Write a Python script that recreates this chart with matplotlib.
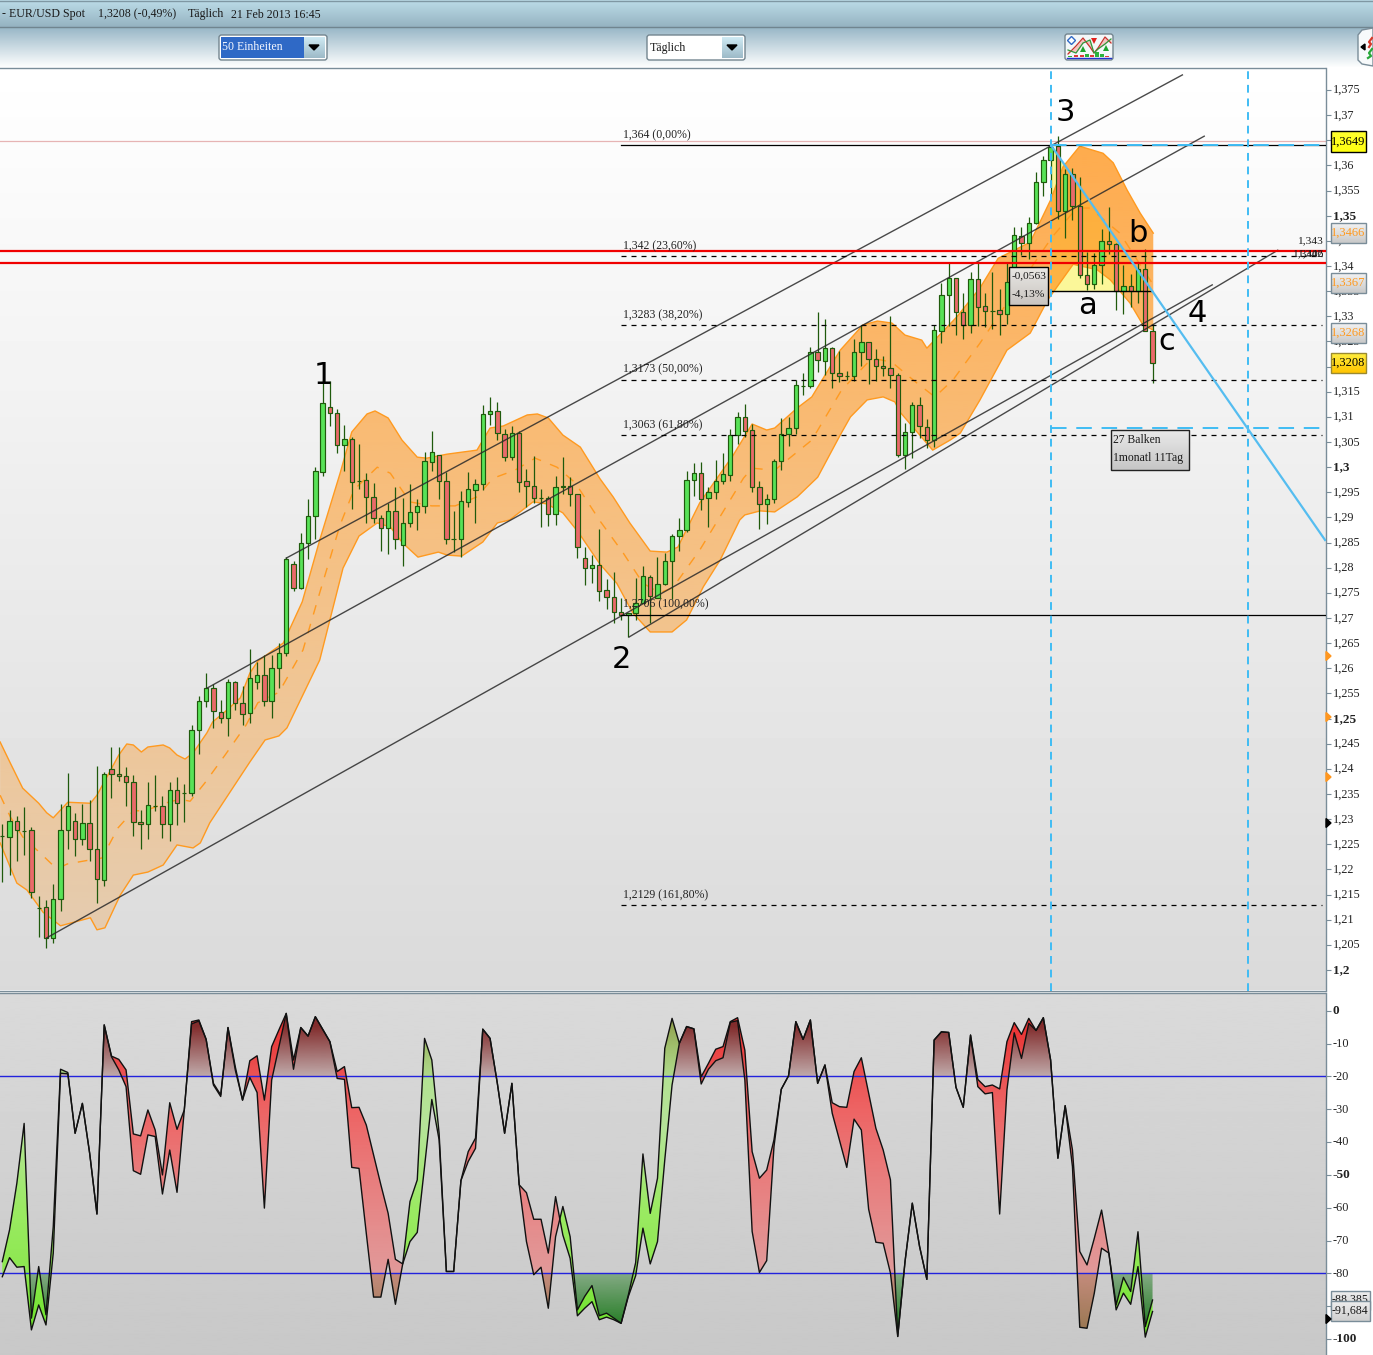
import numpy as np
import matplotlib
matplotlib.use("Agg")
import matplotlib.pyplot as plt
from matplotlib.colors import to_rgb
from matplotlib.patches import FancyBboxPatch, Rectangle
from matplotlib.path import Path
from matplotlib.transforms import ScaledTranslation

W, H = 1373, 1355
SERIF = "Liberation Serif"

# EUR/USD daily candles
opens = [1.2263, 1.2261, 1.2292, 1.2273, 1.2274, 1.2120, 1.2121, 1.2059, 1.2137, 1.2274,
         1.2293, 1.2256, 1.2288, 1.2236, 1.2175, 1.2396, 1.2386, 1.2382, 1.2370, 1.2290,
         1.2286, 1.2323, 1.2322, 1.2286, 1.2354, 1.2349, 1.2348, 1.2473, 1.2531, 1.2557,
         1.2509, 1.2497, 1.2569, 1.2527, 1.2507, 1.2569, 1.2583, 1.2531, 1.2597, 1.2627,
         1.2805, 1.2757, 1.2847, 1.2899, 1.2988, 1.3116, 1.3104, 1.3042, 1.3054, 1.2970,
         1.2972, 1.2937, 1.2895, 1.2875, 1.2909, 1.2843, 1.2885, 1.2907, 1.2919, 1.3008,
         1.3022, 1.2970, 1.2855, 1.2855, 1.2927, 1.2951, 1.2964, 1.3102, 1.3108, 1.3064,
         1.3018, 1.3066, 1.2970, 1.2960, 1.2935, 1.2935, 1.2903, 1.2957, 1.2960, 1.2943,
         1.2817, 1.2797, 1.2803, 1.2752, 1.2738, 1.2708, 1.2702, 1.2706, 1.2726, 1.2778,
         1.2736, 1.2764, 1.2810, 1.2861, 1.2871, 1.2971, 1.2985, 1.2935, 1.2947, 1.2969,
         1.2981, 1.3061, 1.3096, 1.3071, 1.2957, 1.2923, 1.2933, 1.3009, 1.3063, 1.3075,
         1.3159, 1.3158, 1.3226, 1.3208, 1.3234, 1.3184, 1.3178, 1.3178, 1.3226, 1.3246,
         1.3212, 1.3198, 1.3194, 1.3180, 1.3021, 1.3067, 1.3120, 1.3078, 1.3051, 1.3269,
         1.3339, 1.3373, 1.3305, 1.3281, 1.3371, 1.3317, 1.3308, 1.3309, 1.3303, 1.3365,
         1.3458, 1.3444, 1.3484, 1.3564, 1.3608, 1.3636, 1.3508, 1.3580, 1.3518, 1.3379,
         1.3361, 1.3399, 1.3448, 1.3442, 1.3347, 1.3357, 1.3347, 1.3391, 1.3269]
closes = [1.2263, 1.2292, 1.2274, 1.2273, 1.2152, 1.2120, 1.2059, 1.2137, 1.2274, 1.2322,
          1.2256, 1.2288, 1.2236, 1.2177, 1.2386, 1.2386, 1.2382, 1.2370, 1.2290, 1.2286,
          1.2324, 1.2323, 1.2286, 1.2354, 1.2328, 1.2349, 1.2473, 1.2531, 1.2557, 1.2511,
          1.2497, 1.2569, 1.2527, 1.2505, 1.2577, 1.2583, 1.2531, 1.2597, 1.2628, 1.2815,
          1.2757, 1.2847, 1.2899, 1.2990, 1.3124, 1.3104, 1.3042, 1.3054, 1.2968, 1.2970,
          1.2937, 1.2895, 1.2875, 1.2909, 1.2855, 1.2885, 1.2907, 1.2919, 1.3010, 1.3028,
          1.2970, 1.2855, 1.2855, 1.2929, 1.2953, 1.2964, 1.3102, 1.3108, 1.3066, 1.3018,
          1.3066, 1.2968, 1.2960, 1.2935, 1.2935, 1.2903, 1.2957, 1.2960, 1.2943, 1.2839,
          1.2797, 1.2803, 1.2751, 1.2738, 1.2708, 1.2702, 1.2706, 1.2726, 1.2780, 1.2740,
          1.2764, 1.2810, 1.2861, 1.2871, 1.2971, 1.2985, 1.2933, 1.2947, 1.2969, 1.2983,
          1.3061, 1.3096, 1.3069, 1.2957, 1.2923, 1.2933, 1.3009, 1.3063, 1.3075, 1.3160,
          1.3159, 1.3226, 1.3210, 1.3234, 1.3184, 1.3178, 1.3178, 1.3226, 1.3246, 1.3212,
          1.3198, 1.3194, 1.3180, 1.3021, 1.3067, 1.3120, 1.3080, 1.3051, 1.3270, 1.3339,
          1.3373, 1.3305, 1.3281, 1.3371, 1.3315, 1.3307, 1.3308, 1.3303, 1.3365, 1.3460,
          1.3444, 1.3484, 1.3564, 1.3608, 1.3634, 1.3508, 1.3580, 1.3518, 1.3379, 1.3361,
          1.3399, 1.3448, 1.3442, 1.3347, 1.3357, 1.3347, 1.3391, 1.3269, 1.3204]
highs = [1.2287, 1.2315, 1.2303, 1.2320, 1.2280, 1.2143, 1.2135, 1.2167, 1.2327, 1.2388,
         1.2309, 1.2327, 1.2334, 1.2402, 1.2390, 1.2439, 1.2439, 1.2400, 1.2384, 1.2315,
         1.2370, 1.2384, 1.2342, 1.2370, 1.2380, 1.2366, 1.2484, 1.2542, 1.2587, 1.2565,
         1.2534, 1.2575, 1.2571, 1.2561, 1.2635, 1.2609, 1.2624, 1.2624, 1.2648, 1.2818,
         1.2810, 1.2867, 1.2933, 1.2998, 1.3170, 1.3168, 1.3112, 1.3082, 1.3057, 1.3044,
         1.2986, 1.2966, 1.2901, 1.2925, 1.2958, 1.2935, 1.2964, 1.2933, 1.3028, 1.3069,
         1.3022, 1.2988, 1.2909, 1.2949, 1.2988, 1.2974, 1.3120, 1.3136, 1.3126, 1.3074,
         1.3080, 1.3069, 1.2994, 1.3020, 1.2953, 1.2939, 1.2980, 1.3018, 1.2978, 1.2943,
         1.2839, 1.2823, 1.2873, 1.2774, 1.2788, 1.2736, 1.2706, 1.2776, 1.2800, 1.2782,
         1.2818, 1.2826, 1.2865, 1.2895, 1.2989, 1.3005, 1.3007, 1.2957, 1.3011, 1.3025,
         1.3073, 1.3106, 1.3122, 1.3084, 1.2969, 1.2943, 1.3013, 1.3094, 1.3096, 1.3170,
         1.3184, 1.3236, 1.3305, 1.3292, 1.3236, 1.3228, 1.3188, 1.3252, 1.3280, 1.3246,
         1.3232, 1.3218, 1.3298, 1.3184, 1.3086, 1.3126, 1.3136, 1.3092, 1.3280, 1.3363,
         1.3403, 1.3373, 1.3343, 1.3385, 1.3403, 1.3343, 1.3385, 1.3352, 1.3403, 1.3476,
         1.3476, 1.3496, 1.3584, 1.3616, 1.3642, 1.3657, 1.3590, 1.3592, 1.3574, 1.3425,
         1.3423, 1.3472, 1.3516, 1.3444, 1.3399, 1.3381, 1.3403, 1.3431, 1.3283]
lows = [1.2172, 1.2185, 1.2214, 1.2225, 1.2140, 1.2061, 1.2039, 1.2049, 1.2114, 1.2237,
        1.2222, 1.2245, 1.2214, 1.2130, 1.2164, 1.2339, 1.2372, 1.2323, 1.2263, 1.2237,
        1.2257, 1.2313, 1.2259, 1.2252, 1.2285, 1.2291, 1.2343, 1.2427, 1.2520, 1.2478,
        1.2487, 1.2461, 1.2514, 1.2483, 1.2488, 1.2556, 1.2522, 1.2498, 1.2558, 1.2621,
        1.2751, 1.2755, 1.2814, 1.2854, 1.2980, 1.3079, 1.3026, 1.2990, 1.2914, 1.2953,
        1.2886, 1.2885, 1.2830, 1.2825, 1.2834, 1.2801, 1.2877, 1.2872, 1.2906, 1.2990,
        1.2934, 1.2845, 1.2828, 1.2818, 1.2917, 1.2886, 1.2951, 1.3081, 1.3052, 1.3010,
        1.3012, 1.2948, 1.2917, 1.2925, 1.2878, 1.2879, 1.2882, 1.2943, 1.2920, 1.2816,
        1.2763, 1.2767, 1.2731, 1.2714, 1.2686, 1.2693, 1.2658, 1.2693, 1.2726, 1.2686,
        1.2736, 1.2762, 1.2734, 1.2831, 1.2869, 1.2940, 1.2911, 1.2877, 1.2934, 1.2964,
        1.2970, 1.3043, 1.3057, 1.2947, 1.2873, 1.2883, 1.2925, 1.2992, 1.3039, 1.3063,
        1.3140, 1.3154, 1.3186, 1.3180, 1.3154, 1.3166, 1.3170, 1.3168, 1.3198, 1.3162,
        1.3168, 1.3178, 1.3154, 1.3018, 1.2993, 1.3015, 1.3055, 1.3035, 1.3037, 1.3245,
        1.3279, 1.3260, 1.3253, 1.3265, 1.3279, 1.3277, 1.3273, 1.3260, 1.3282, 1.3383,
        1.3419, 1.3411, 1.3482, 1.3536, 1.3540, 1.3492, 1.3454, 1.3490, 1.3373, 1.3349,
        1.3351, 1.3361, 1.3421, 1.3309, 1.3303, 1.3315, 1.3323, 1.3269, 1.3164]

# Bollinger band outline, bar number / price
upper_bar = [-0.3, 1.1, 2.8, 5.0, 6.1, 7.0, 9.0, 12.1, 13.0, 16.0, 17.1, 18.0, 19.1, 20.0, 22.1, 23.0, 24.0, 25.1,
             26.2, 28.1, 28.9, 30.9, 32.7, 34.0, 35.1, 38.6, 41.2, 43.6, 46.4, 48.0, 50.1, 51.2, 53.0, 54.9, 57.0,
             58.3, 61.1, 65.2, 67.0, 68.8, 72.1, 73.5, 75.0, 77.0, 79.4, 82.1, 83.9, 86.2, 89.0, 91.3, 92.8, 95.8,
             100.4, 103.0, 105.0, 106.1, 109.2, 111.2, 115.1, 118.2, 120.2, 122.2, 124.0, 126.3, 127.0, 131.1,
             134.3, 136.8, 141.2, 144.0, 145.7, 148.0, 151.2, 152.6, 154.5, 156.3, 158.1]
upper_val = [1.2450, 1.2408, 1.2358, 1.2328, 1.2309, 1.2299, 1.2330, 1.2328, 1.2344, 1.2424, 1.2446, 1.2444, 1.2430,
             1.2440, 1.2444, 1.2438, 1.2424, 1.2416, 1.2428, 1.2468, 1.2490, 1.2514, 1.2538, 1.2587, 1.2611, 1.2647,
             1.2729, 1.2852, 1.2985, 1.3067, 1.3103, 1.3109, 1.3095, 1.3051, 1.3017, 1.3015, 1.3023, 1.3031, 1.3075,
             1.3079, 1.3101, 1.3103, 1.3095, 1.3061, 1.3037, 1.2974, 1.2938, 1.2886, 1.2830, 1.2828, 1.2838, 1.2926,
             1.3021, 1.3083, 1.3071, 1.3075, 1.3115, 1.3137, 1.3230, 1.3280, 1.3288, 1.3284, 1.3260, 1.3250, 1.3234,
             1.3296, 1.3354, 1.3413, 1.3445, 1.3529, 1.3595, 1.3636, 1.3622, 1.3603, 1.3549, 1.3503, 1.3463]
lower_bar = [-0.3, 2.0, 3.4, 5.6, 8.0, 12.1, 13.0, 14.1, 16.2, 18.0, 20.0, 22.1, 24.0, 26.2, 27.2, 28.5, 31.0, 34.0,
             36.1, 38.0, 39.1, 43.6, 46.8, 49.0, 51.5, 53.3, 55.0, 57.1, 59.9, 61.1, 63.1, 66.0, 68.0, 69.7, 72.9,
             74.8, 77.0, 79.1, 82.1, 84.4, 86.6, 89.0, 92.0, 94.0, 96.3, 98.6, 101.3, 102.0, 104.1, 106.1, 109.2,
             112.0, 115.1, 116.5, 118.8, 121.0, 122.6, 123.3, 127.8, 130.2, 131.6, 134.3, 138.0, 141.2, 143.6,
             147.1, 150.4, 152.2, 154.9, 156.7, 158.1]
lower_val = [1.2249, 1.2169, 1.2155, 1.2111, 1.2084, 1.2100, 1.2076, 1.2080, 1.2145, 1.2185, 1.2191, 1.2205, 1.2245,
             1.2239, 1.2249, 1.2289, 1.2344, 1.2410, 1.2454, 1.2462, 1.2478, 1.2613, 1.2796, 1.2860, 1.2886, 1.2878,
             1.2846, 1.2818, 1.2828, 1.2822, 1.2820, 1.2848, 1.2886, 1.2892, 1.2928, 1.2924, 1.2906, 1.2868, 1.2804,
             1.2766, 1.2707, 1.2669, 1.2669, 1.2693, 1.2759, 1.2812, 1.2892, 1.2902, 1.2910, 1.2908, 1.2938, 1.2977,
             1.3061, 1.3097, 1.3131, 1.3137, 1.3127, 1.3107, 1.3031, 1.3051, 1.3065, 1.3131, 1.3230, 1.3264, 1.3330,
             1.3401, 1.3390, 1.3370, 1.3324, 1.3280, 1.3270]
mid_bar = [-0.3, 1.1, 2.8, 5.2, 7.5, 8.9, 12.0, 13.7, 15.9, 18.0, 19.6, 22.8, 24.4, 25.8, 27.8, 30.7, 33.5, 35.1, 38.0,
           41.3, 43.6, 46.4, 48.3, 51.5, 53.3, 56.0, 59.0, 62.2, 65.2, 67.4, 70.4, 73.2, 76.2, 78.7, 82.1, 85.3,
           88.0, 90.3, 92.1, 95.8, 101.8, 103.0, 106.1, 111.2, 115.3, 118.8, 120.2, 122.2, 125.6, 128.1, 130.6,
           134.3, 138.0, 144.2, 147.6, 149.4, 153.5, 158.1]
mid_val = [1.2344, 1.2301, 1.2261, 1.2229, 1.2197, 1.2207, 1.2215, 1.2219, 1.2279, 1.2313, 1.2313, 1.2330, 1.2336,
           1.2332, 1.2368, 1.2426, 1.2484, 1.2528, 1.2549, 1.2633, 1.2747, 1.2882, 1.2952, 1.2997, 1.2985, 1.2928,
           1.2920, 1.2920, 1.2938, 1.2975, 1.2991, 1.3015, 1.2997, 1.2966, 1.2890, 1.2826, 1.2766, 1.2747, 1.2757,
           1.2832, 1.2975, 1.2995, 1.2991, 1.3051, 1.3151, 1.3204, 1.3212, 1.3206, 1.3165, 1.3137, 1.3171, 1.3244,
           1.3324, 1.3455, 1.3513, 1.3513, 1.3463, 1.3360]

# channel lines: start bar, start price, end bar, end price
channels = [(39.0, 1.2816, 162.1, 1.3778),
            (28.1, 1.2557, 165.1, 1.3656),
            (6.1, 1.2060, 166.2, 1.3360),
            (86.1, 1.2659, 175.2, 1.3429)]

fib_levels = [1.3638, 1.3417, 1.3280, 1.3171, 1.3061, 1.2703, 1.2125]
fib_labels = ["1,364 (0,00%)", "1,342 (23,60%)", "1,3283 (38,20%)", "1,3173 (50,00%)",
              "1,3063 (61,80%)", "1,2706 (100,00%)", "1,2129 (161,80%)"]
fib_solid = [True, False, False, False, False, True, False]
fib_start = 85.0

red_levels = [1.3427, 1.3404]
last_high_level = 1.3646
cycle_bars = [144.05, 171.1]
cycle_levels = [1.3638, 1.3075]
fan_end = (181.7, 1.2852)
retrace_level = 1.3348
retrace_end = 157.9

# Williams %R, two lines
wr_fast = [-76.4, -66.7, -52.5, -34.3, -93.6, -77.9, -92.6, -65.7, -17.8, -18.8,
           -37.3, -28.2, -43.4, -61.9, -4.3, -14.0, -18.0, -23.1, -48.7, -49.8,
           -37.8, -38.3, -55.8, -42.4, -55.3, -30.2, -4.0, -3.1, -8.7, -22.6,
           -26.1, -5.1, -18.0, -27.2, -20.3, -24.9, -60.1, -21.1, -10.9, -0.8,
           -17.8, -5.1, -7.7, -1.8, -5.6, -9.4, -20.6, -20.9, -47.7, -48.0,
           -67.8, -87.2, -87.2, -75.7, -89.4, -77.1, -58.1, -51.5, -8.4, -15.0,
           -37.3, -79.4, -79.4, -51.7, -45.9, -41.9, -5.6, -8.4, -22.1, -37.3,
           -22.1, -53.0, -70.3, -80.4, -78.1, -90.6, -68.8, -59.6, -68.8, -91.1,
           -87.0, -83.7, -92.9, -92.1, -93.6, -95.2, -86.5, -76.7, -43.6, -61.7,
           -51.0, -11.4, -2.3, -9.9, -4.8, -5.5, -22.3, -17.8, -15.2, -14.3,
           -3.5, -3.0, -21.1, -67.2, -79.7, -76.1, -41.4, -23.9, -19.8, -3.3,
           -8.7, -2.8, -22.1, -16.5, -31.2, -39.5, -47.7, -33.0, -36.3, -60.4,
           -70.5, -70.8, -79.9, -99.2, -76.4, -58.6, -71.8, -81.8, -8.9, -6.4,
           -6.6, -23.3, -29.4, -7.4, -23.1, -25.3, -24.9, -61.9, -24.1, -6.7,
           -14.5, -3.8, -6.0, -2.1, -15.0, -44.9, -28.9, -47.5, -96.4, -96.7,
           -86.0, -72.3, -73.8, -89.6, -81.2, -85.5, -67.3, -96.2, -88.1]
wr_slow = [-81.0, -75.2, -78.1, -77.9, -97.2, -89.6, -95.7, -73.8, -19.0, -19.2,
           -37.3, -28.2, -43.4, -61.9, -4.3, -13.8, -14.8, -18.0, -37.5, -38.1,
           -30.2, -36.3, -50.0, -28.0, -36.1, -30.2, -3.3, -2.8, -8.7, -22.1,
           -25.6, -5.1, -17.0, -27.2, -15.2, -13.7, -27.2, -10.9, -5.8, -0.8,
           -15.0, -5.1, -7.7, -1.8, -5.6, -9.4, -18.5, -17.0, -29.5, -29.4,
           -34.8, -43.9, -53.0, -61.7, -75.7, -77.1, -70.3, -67.5, -47.5, -27.0,
           -39.3, -79.4, -79.4, -51.7, -42.9, -38.8, -5.6, -8.4, -22.1, -37.3,
           -22.1, -53.0, -55.4, -63.5, -63.5, -73.8, -56.6, -68.3, -75.4, -92.9,
           -90.6, -88.6, -94.1, -93.3, -94.1, -95.2, -87.0, -80.7, -66.2, -77.1,
           -70.3, -45.4, -22.6, -9.9, -4.8, -5.5, -20.1, -16.0, -11.7, -10.9,
           -3.3, -2.1, -12.0, -42.9, -51.0, -48.5, -39.3, -23.9, -19.8, -3.3,
           -8.7, -2.8, -22.1, -16.5, -28.0, -29.2, -29.4, -18.5, -14.3, -25.1,
           -35.8, -42.4, -51.5, -99.2, -76.4, -58.6, -71.8, -81.8, -8.9, -6.4,
           -6.6, -23.3, -29.4, -7.4, -20.9, -23.1, -22.6, -23.8, -9.4, -3.6,
           -7.2, -2.3, -6.0, -2.1, -15.0, -44.9, -28.9, -42.4, -73.3, -77.4,
           -69.3, -60.7, -73.8, -91.1, -86.0, -89.4, -77.9, -99.4, -91.6]
wr_levels = [-20, -80]

# pixel <-> data scales
BAR_X0, BAR_W = 2.3, 7.28
PX_PER_PRICE, PRICE_Y0 = 5029.0, 970.0
PX_PER_WR, WR_Y0 = 3.283, 1010.8
AX_RIGHT, MAIN_TOP, MAIN_BOTTOM, WR_TOP = 1325.5, 67.5, 990.5, 993


def price_at(y):
    return 1.2 + (PRICE_Y0 - y) / PX_PER_PRICE


def wr_at(y):
    return (WR_Y0 - y) / PX_PER_WR


def bar_at(x):
    return (x - BAR_X0) / BAR_W


def recal(p):
    # the prices above were read with a first ruler of 5023 px per unit from 968, the axis ticks give a slightly
    # different one
    return 1.2 + (2.0 + (np.asarray(p, dtype=float) - 1.2) * 5023.0) / PX_PER_PRICE


def gradient_image(ax, path, y_lo, y_hi, stops, zorder):
    # vertical RGBA gradient clipped to a path, stops are (value, r, g, b, a)
    ys = np.linspace(y_lo, y_hi, 400)
    stops = sorted(stops)
    vals = [s[0] for s in stops]
    rgba = np.stack([np.interp(ys, vals, [s[k] for s in stops]) for k in range(1, 5)], axis=1)
    x0, x1 = ax.get_xlim()
    im = ax.imshow(rgba[:, None, :], origin="lower", extent=(x0, x1, y_lo, y_hi), aspect="auto",
                   interpolation="bilinear", zorder=zorder)
    im.set_clip_path(path, transform=ax.transData)
    ax.set_xlim(x0, x1)
    return im


def between_path(ax, x, y1, y2, where):
    poly = ax.fill_between(x, y1, y2, where=where, interpolate=True, facecolor="none", linewidth=0)
    paths = poly.get_paths()
    poly.remove()
    return Path.make_compound_path(*paths)


def axes_rect(top, bottom):
    return [0, 1 - bottom / H, AX_RIGHT / W, (bottom - top) / H]


def background(ax, top_grey, bottom_grey):
    grad = np.linspace(bottom_grey, top_grey, 256)[:, None]
    ax.imshow(grad, cmap="gray", vmin=0, vmax=1, origin="lower", extent=(0, 1, 0, 1), transform=ax.transAxes,
              aspect="auto", zorder=0)


def style_axis(ax, sides_off):
    for side in sides_off:
        ax.spines[side].set_visible(False)
    for side in ax.spines:
        ax.spines[side].set_color("#7a8d99")
        ax.spines[side].set_linewidth(1.0)
    ax.xaxis.set_visible(False)
    ax.yaxis.tick_right()
    ax.tick_params(axis="y", length=3.3, width=0.8, color="#7a8d99", pad=2)


def set_tick_fonts(ax, bold_flags):
    nudge = ScaledTranslation(0, 1.2 / 100, fig.dpi_scale_trans)
    for lab, bold in zip(ax.get_yticklabels(), bold_flags):
        lab.set_fontfamily(SERIF)
        lab.set_fontsize(9.5 if bold else 8.8)
        lab.set_fontweight("bold" if bold else "normal")
        lab.set_color("#222222")
        lab.set_transform(lab.get_transform() + nudge)


fig = plt.figure(figsize=(W / 100, H / 100), dpi=100, facecolor="white")

# price panel
ax = fig.add_axes(axes_rect(MAIN_TOP, MAIN_BOTTOM))
ax.set_xlim(bar_at(0), bar_at(AX_RIGHT))
ax.set_ylim(price_at(MAIN_BOTTOM), price_at(MAIN_TOP))
background(ax, 1.0, 0.855)
ax.set_xlim(bar_at(0), bar_at(AX_RIGHT))
ax.set_ylim(price_at(MAIN_BOTTOM), price_at(MAIN_TOP))
style_axis(ax, ["left"])

# yellow retracement triangle sits below the band
top_level, box_level = recal(cycle_levels)
ax.fill([cycle_bars[0], cycle_bars[0], retrace_end], [top_level, recal(retrace_level), recal(retrace_level)],
        color="#fbf799", zorder=1, linewidth=0)

upper_p, lower_p, mid_p = recal(upper_val), recal(lower_val), recal(mid_val)
band_path = Path(list(zip(upper_bar, upper_p)) + list(zip(lower_bar[::-1], lower_p[::-1])))
orange = to_rgb("#ff961e")
band_stops = [(1.1900, *orange, 0.19), (1.2076, *orange, 0.24), (1.3638, *orange, 0.79), (1.3800, *orange, 0.81)]
gradient_image(ax, band_path, ax.get_ylim()[0], ax.get_ylim()[1], band_stops, 2)
ax.set_ylim(price_at(MAIN_BOTTOM), price_at(MAIN_TOP))
ax.plot(upper_bar, upper_p, color="#ff9a20", lw=1.0, zorder=3)
ax.plot(lower_bar, lower_p, color="#ff9a20", lw=1.0, zorder=3)
ax.plot(mid_bar, mid_p, color="#ff9a20", lw=1.0, zorder=3, dashes=(7, 7))

# candles
bars = np.arange(len(opens))
o, c, hi, lo = map(recal, (opens, closes, highs, lows))
up = c >= o
edge = "#1f5a0c"
ax.vlines(bars, lo, hi, color=edge, lw=0.9, zorder=4)
ax.bar(bars[up], (c - o)[up], bottom=o[up], width=0.6, color="#58e257", edgecolor=edge, linewidth=0.85, zorder=5)
ax.bar(bars[~up], (c - o)[~up], bottom=o[~up], width=0.6, color="#ea6a6a", edgecolor=edge, linewidth=0.85, zorder=5)

for x0, y0, x1, y1 in channels:
    ax.plot([x0, x1], [recal(y0), recal(y1)], color="#2a2a2a", lw=1.0, alpha=0.85, zorder=6)

x_end = bar_at(AX_RIGHT)
for level, text, solid in zip(recal(fib_levels), fib_labels, fib_solid):
    if solid:
        ax.plot([fib_start, x_end], [level, level], color="black", lw=0.9, zorder=6)
    else:
        ax.plot([fib_start, bar_at(1322)], [level, level], color="black", lw=0.9, dashes=(4, 4), zorder=6)
    ax.annotate(text, (fib_start, level), xytext=(1.5, 3), textcoords="offset points", family=SERIF,
                fontsize=8.5, color="#222222", va="bottom", ha="left", zorder=8)

ax.plot([bar_at(0), x_end], [recal(last_high_level)] * 2, color="#e6b4b4", lw=0.9, zorder=1.5)
for level in recal(red_levels):
    ax.plot([bar_at(0), x_end], [level, level], color="#f00000", lw=1.6, zorder=7)
ax.plot([cycle_bars[0], retrace_end], [recal(retrace_level)] * 2, color="black", lw=1.0, zorder=6)

blue = "#3fbcf4"
for b in cycle_bars:
    ax.plot([b, b], ax.get_ylim(), color=blue, lw=1.4, dashes=(4, 3), zorder=7)
for level in (top_level, box_level):
    ax.plot([cycle_bars[0], x_end], [level, level], color=blue, lw=1.4, dashes=(8, 5), zorder=7)
ax.plot([cycle_bars[0], fan_end[0]], [top_level, recal(fan_end[1])], color="#55bdf0", lw=1.6, zorder=7)

price_ticks = np.round(np.arange(1.2, 1.3751, 0.005), 3)
ax.set_yticks(price_ticks)
ax.set_yticklabels([f"{p:.3f}".rstrip("0").replace(".", ",") for p in price_ticks])
set_tick_fonts(ax, [round(p * 1000) % 50 == 0 for p in price_ticks])

# Williams %R panel
ax2 = fig.add_axes(axes_rect(WR_TOP, H))
ax2.set_xlim(bar_at(0), bar_at(AX_RIGHT))
ax2.set_ylim(wr_at(H), wr_at(WR_TOP))
background(ax2, 0.855, 0.785)
ax2.set_xlim(bar_at(0), bar_at(AX_RIGHT))
ax2.set_ylim(wr_at(H), wr_at(WR_TOP))
style_axis(ax2, ["left", "bottom"])

fast, slow = np.array(wr_fast), np.array(wr_slow)
ylo, yhi = ax2.get_ylim()

# zones beyond -20 and -80 go first, the band between the lines on top of them
dark_red = to_rgb("#7d2323")
dark_green = to_rgb("#197819")
zone_hi = between_path(ax2, bars, -20.0, fast, fast > -20)
gradient_image(ax2, zone_hi, -20, yhi, [(-20, *dark_red, 0.25), (-5, *dark_red, 0.95), (yhi, *dark_red, 1.0)], 2)
zone_lo = between_path(ax2, bars, -80.0, fast, fast < -80)
gradient_image(ax2, zone_lo, ylo, -80, [(-80, *dark_green, 0.4), (-97, *dark_green, 0.97), (ylo, *dark_green, 1.0)], 2)

red_band = between_path(ax2, bars, fast, slow, fast < slow)
red_stops = [(yhi, 0.92, 0.08, 0.08, 0.97), (-20, 0.94, 0.24, 0.24, 0.85), (-30, 0.96, 0.28, 0.28, 0.8),
             (-80, 0.94, 0.47, 0.47, 0.6), (ylo, 0.94, 0.47, 0.47, 0.6)]
gradient_image(ax2, red_band, ylo, yhi, red_stops, 3)
green_band = between_path(ax2, bars, fast, slow, fast > slow)
green_stops = [(yhi, 0.59, 0.92, 0.35, 0.55), (-20, 0.67, 0.9, 0.51, 0.8), (-35, 0.71, 0.9, 0.59, 0.95),
               (-60, 0.61, 0.92, 0.39, 1.0), (-80, 0.55, 0.91, 0.31, 1.0), (ylo, 0.37, 0.88, 0.1, 1.0)]
gradient_image(ax2, green_band, ylo, yhi, green_stops, 3)
ax2.set_xlim(bar_at(0), bar_at(AX_RIGHT))
ax2.set_ylim(ylo, yhi)

for level in wr_levels:
    ax2.axhline(level, color="#2222dd", lw=1.0, zorder=4)
ax2.plot(bars, slow, color="#111111", lw=1.0, zorder=5)
ax2.plot(bars, fast, color="#111111", lw=1.0, zorder=5)

wr_ticks = np.arange(-100, 1, 10)
ax2.set_yticks(wr_ticks)
ax2.set_yticklabels([str(v) for v in wr_ticks])
set_tick_fonts(ax2, [v % 50 == 0 for v in wr_ticks])

# header, boxes and annotations in pixel space on top of everything
top = fig.add_axes([0, 0, 1, 1], zorder=10)
top.patch.set_alpha(0)
top.axis("off")
top.set_xlim(0, W)
top.set_ylim(H, 0)


def grad_box(x0, y0, x1, y1, c_top, c_bottom, edgecolor=None, lw=1.0, zorder=2):
    c0, c1 = np.array(to_rgb(c_top)), np.array(to_rgb(c_bottom))
    arr = np.linspace(c0, c1, 64)[:, None, :]
    top.imshow(arr, extent=(x0, x1, y1, y0), origin="upper", aspect="auto", zorder=zorder)
    if edgecolor:
        top.add_patch(Rectangle((x0, y0), x1 - x0, y1 - y0, fc="none", ec=edgecolor, lw=lw, zorder=zorder + 0.1))


def label(x, y, s, size=8.6, color="#1a1a1a", ha="left", weight="normal", family=SERIF, zorder=5):
    top.text(x, y, s, fontsize=size, color=color, ha=ha, va="center", fontweight=weight, family=family, zorder=zorder)


grad_box(0, 0, W, 27, "#bcdce8", "#95b3c1")
top.plot([0, W], [0.5, 0.5], color="#7f97a3", lw=1)
top.plot([0, W], [27, 27], color="#70858f", lw=1, zorder=3)
grad_box(0, 28, W, 67, "#9ab8c8", "#fdfefe")

label(2, 14.5, "- EUR/USD Spot")
label(98, 14.5, "1,3208 (-0,49%)")
label(188, 14.5, "Täglich")
label(231, 14.5, "21 Feb 2013 16:45")


def combo(x0, x1, text, selected):
    top.add_patch(FancyBboxPatch((x0, 35), x1 - x0, 25, boxstyle="round,pad=0,rounding_size=2.5", fc="white",
                                 ec="#73858f", lw=1, zorder=3))
    grad_box(x1 - 23, 37, x1 - 2, 58, "#cfeaf3", "#9dbac8", zorder=4)
    top.fill([x1 - 18, x1 - 8, x1 - 13], [45, 45, 50], color="black", zorder=6)
    if selected:
        top.add_patch(Rectangle((x0 + 2, 37), x1 - x0 - 25, 21, fc="#2f69c6", ec="none", zorder=4))
    label(x0 + 3, 47.5, text, color="#f4f7ff" if selected else "#1a1a1a")


combo(219, 327, "50 Einheiten", True)
combo(647, 745, "Täglich", False)

# small toolbar icon
top.add_patch(FancyBboxPatch((1065, 34), 48, 26, boxstyle="round,pad=0,rounding_size=2.5", fc="#f3f7f8",
                             ec="#73858f", lw=1, zorder=3))
icon_x = [1068, 1076, 1083, 1090, 1094, 1098, 1105, 1111]
icon_red = [54, 46, 38, 47, 53, 48, 37, 43]
icon_green = [50, 53, 43, 40, 53, 49, 44, 39]
top.fill_between(icon_x, icon_red, icon_green, color="#f5c4c0", lw=0, zorder=3.5)
top.plot(icon_x, icon_red, color="#c8322c", lw=0.9, zorder=4)
top.plot(icon_x, icon_green, color="#2f9a3c", lw=0.9, zorder=4)
top.plot([1067, 1111], [57.5, 57.5], color="#2233cc", lw=1, zorder=4)
for x, h, col in [(1070, 1, "#2cb23c"), (1076, 2, "#e03a3a"), (1082, 2, "#e03a3a"), (1087, 3, "#2cb23c"),
                  (1092, 2, "#e03a3a"), (1097, 5, "#2cb23c"), (1102, 3, "#2cb23c"), (1107, 1, "#e03a3a")]:
    top.add_patch(Rectangle((x - 2, 57 - h), 4, h, fc=col, ec="none", zorder=4))
for x, y, col, mark in [(1083, 49, "#1fa52f", "^"), (1094, 41, "#e0201c", "v"), (1106, 48, "#1fa52f", "^")]:
    top.plot([x], [y], marker=mark, ms=4.5, color=col, mew=0, zorder=5)
top.plot([1071], [40], marker="D", ms=4.5, mfc="white", mec="#2f69c6", mew=1, zorder=5)

top.fill([1373, 1362, 1358, 1358, 1362, 1373], [28, 30, 35, 60, 64, 66], fc="#f7fafb", ec="#7a8d99", lw=1, zorder=3)
top.fill([1361, 1365, 1365], [47, 44, 50], color="black", zorder=4)
top.plot([1372, 1369, 1371, 1369], [38, 42, 44, 47], color="#d63a2c", lw=1.6, zorder=4)
top.plot([1372, 1369, 1371, 1368], [49, 53, 56, 58], color="#27a83a", lw=1.6, zorder=4)

# price boxes on the axis
grad_box(1331, 131, 1366, 152, "#ffff30", "#ffff10", edgecolor="black")
label(1348.5, 141.5, "1,3649", ha="center", color="black", size=9)
for y0, text in [(223, "1,3466"), (273, "1,3367"), (323, "1,3268")]:
    grad_box(1331, y0, 1366, y0 + 20, "#f2f2f2", "#c9c9c9", edgecolor="#7a8d99")
    label(1348.5, y0 + 10, text, ha="center", color="#ff9a20", size=9)
grad_box(1331, 353, 1366, 373, "#ffef40", "#ffc400", edgecolor="#9a8a30")
label(1348.5, 363, "1,3208", ha="center", color="black", size=9)

label(1323, 241, "1,343", ha="right", size=8.2)
label(1323, 254, "1,3406", ha="right", size=8.2)
label(1323, 254, "1,342", ha="right", size=8.2)

for y, col in [(656, "#ff961e"), (717, "#ff961e"), (777, "#ff961e"), (823, "black"), (1319, "black")]:
    top.fill([1326, 1331, 1326], [y - 4.5, y, y + 4.5], color=col, zorder=6)

# tooltips on the chart
grad_box(1009, 267, 1048, 305, "#e9e7e4", "#c9c5c0", edgecolor="black")
label(1012, 276, "-0,0563", size=8.2)
label(1012, 294, "-4,13%", size=8.2)
grad_box(1111, 430, 1189, 470, "#e9e9e9", "#c6c6c6", edgecolor="#222222")
label(1113, 440, "27 Balken", size=8.4)
label(1113, 458, "1monatl 11Tag", size=8.4)

# the second value box covers the lower half of the first, as in the platform
grad_box(1331, 1291, 1370, 1310, "#eeeeee", "#d0d0d0", edgecolor="#7a8d99", zorder=2)
label(1350, 1300, "-88,385", ha="center", size=8.6, zorder=2.5)
grad_box(1331, 1301, 1370, 1321, "#eeeeee", "#cfcfcf", edgecolor="#7a8d99", zorder=3)
label(1350, 1311, "-91,684", ha="center", size=8.6)

# wave count
for x, y, s in [(323, 375.5, "1"), (621, 659, "2"), (1065, 112.5, "3"), (1197, 313, "4"),
                (1087, 306, "a"), (1138, 234, "b"), (1167, 342, "c")]:
    label(x, y, s, size=22, color="black", ha="center", family="DejaVu Sans", zorder=8)

top.set_xlim(0, W)
top.set_ylim(H, 0)

fig.savefig("out.png", dpi=100)
